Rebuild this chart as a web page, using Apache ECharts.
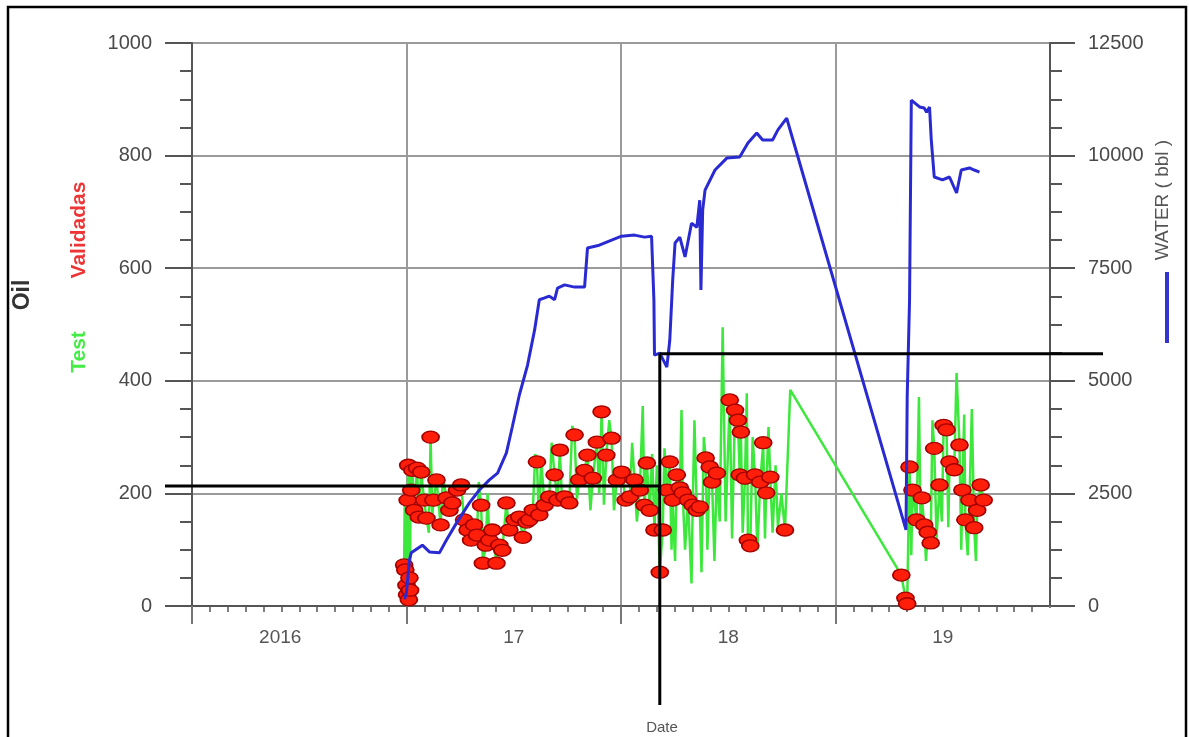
<!DOCTYPE html>
<html>
<head>
<meta charset="utf-8">
<script src="https://cdn.jsdelivr.net/npm/echarts@6/dist/echarts.min.js"></script>
<style>
  html, body { margin: 0; padding: 0; background: #fff; }
  #chart { width: 1189px; height: 737px; }
</style>
</head>
<body>
<div id="chart"></div>
<script>
// Year labels shown under the time axis (one per year band)
const yearLabels = ['2016', '17', '18', '19'];

// Water production (bbl), right axis
const waterData = [
  ['2016-12-29', 150], ['2017-01-01', 310], ['2017-01-06', 1020], ['2017-01-09', 1180],
  ['2017-01-28', 1350], ['2017-02-09', 1200], ['2017-02-26', 1180], ['2017-03-10', 1465],
  ['2017-03-27', 1840], ['2017-04-18', 2290], ['2017-05-05', 2575], ['2017-05-22', 2800],
  ['2017-06-05', 2950], ['2017-06-20', 3400], ['2017-06-30', 3975], ['2017-07-12', 4685],
  ['2017-07-26', 5350], ['2017-08-07', 6130], ['2017-08-15', 6800], ['2017-08-24', 6840],
  ['2017-09-01', 6880], ['2017-09-10', 6800], ['2017-09-15', 7060], ['2017-09-27', 7130],
  ['2017-10-14', 7080], ['2017-10-31', 7080], ['2017-11-05', 7950], ['2017-11-25', 8010],
  ['2017-12-16', 8125], ['2018-01-02', 8210], ['2018-01-24', 8235], ['2018-02-10', 8190],
  ['2018-02-22', 8210], ['2018-02-26', 6790], ['2018-02-27', 5570], ['2018-03-08', 5615],
  ['2018-03-20', 5305], ['2018-03-25', 5900], ['2018-03-30', 7240], ['2018-04-03', 8060],
  ['2018-04-11', 8190], ['2018-04-20', 7750], ['2018-05-01', 8500], ['2018-05-10', 8410],
  ['2018-05-15', 9010], ['2018-05-17', 7015], ['2018-05-20', 8790], ['2018-05-24', 9235],
  ['2018-06-10', 9680], ['2018-06-30', 9945], ['2018-07-22', 9970], ['2018-08-05', 10280],
  ['2018-08-20', 10500], ['2018-08-30', 10345], ['2018-09-16', 10345], ['2018-09-25', 10570],
  ['2018-10-10', 10830], ['2019-05-01', 1690], ['2019-05-03', 4640], ['2019-05-07', 6790],
  ['2019-05-10', 11230], ['2019-05-24', 11080], ['2019-06-01', 11055], ['2019-06-05', 10965],
  ['2019-06-10', 11080], ['2019-06-13', 10345], ['2019-06-18', 9525], ['2019-07-02', 9460],
  ['2019-07-14', 9525], ['2019-07-26', 9170], ['2019-08-03', 9680], ['2019-08-17', 9725],
  ['2019-08-25', 9680], ['2019-09-03', 9635]
];

// Oil well tests (all), left axis
const testData = [
  ['2016-12-28', 73], ['2016-12-29', 200], ['2016-12-30', 64], ['2017-01-01', 37],
  ['2017-01-02', 20], ['2017-01-03', 188], ['2017-01-04', 250], ['2017-01-05', 11],
  ['2017-01-06', 50], ['2017-01-07', 28], ['2017-01-08', 230], ['2017-01-09', 206],
  ['2017-01-11', 241], ['2017-01-14', 170], ['2017-01-19', 245], ['2017-01-22', 158],
  ['2017-01-26', 238], ['2017-01-31', 188], ['2017-02-04', 156], ['2017-02-08', 130],
  ['2017-02-11', 300], ['2017-02-14', 160], ['2017-02-16', 188], ['2017-02-21', 224],
  ['2017-02-28', 144], ['2017-03-04', 230], ['2017-03-10', 192], ['2017-03-15', 170],
  ['2017-03-20', 183], ['2017-03-28', 206], ['2017-04-04', 215], ['2017-04-09', 153],
  ['2017-04-15', 135], ['2017-04-21', 117], ['2017-04-26', 144], ['2017-05-01', 126],
  ['2017-05-04', 220], ['2017-05-08', 179], ['2017-05-11', 76], ['2017-05-16', 108],
  ['2017-05-19', 200], ['2017-05-22', 117], ['2017-05-27', 135], ['2017-06-03', 76],
  ['2017-06-08', 108], ['2017-06-13', 99], ['2017-06-20', 183], ['2017-06-25', 135],
  ['2017-07-04', 153], ['2017-07-12', 158], ['2017-07-18', 122], ['2017-07-24', 149],
  ['2017-07-29', 153], ['2017-08-04', 170], ['2017-08-08', 270], ['2017-08-11', 256],
  ['2017-08-13', 190], ['2017-08-15', 162], ['2017-08-18', 260], ['2017-08-24', 179],
  ['2017-09-01', 194], ['2017-09-05', 290], ['2017-09-10', 233], ['2017-09-15', 188],
  ['2017-09-19', 277], ['2017-09-23', 180], ['2017-09-27', 194], ['2017-10-05', 183],
  ['2017-10-10', 320], ['2017-10-14', 304], ['2017-10-18', 190], ['2017-10-22', 224],
  ['2017-10-31', 241], ['2017-11-05', 268], ['2017-11-10', 170], ['2017-11-14', 227],
  ['2017-11-21', 291], ['2017-11-25', 200], ['2017-11-29', 345], ['2017-12-03', 180],
  ['2017-12-07', 268], ['2017-12-12', 330], ['2017-12-16', 298], ['2017-12-20', 170],
  ['2017-12-25', 224], ['2018-01-02', 238], ['2018-01-09', 188], ['2018-01-16', 194],
  ['2018-01-20', 290], ['2018-01-24', 224], ['2018-01-28', 150], ['2018-02-02', 206],
  ['2018-02-07', 355], ['2018-02-10', 179], ['2018-02-14', 254], ['2018-02-19', 170],
  ['2018-02-23', 270], ['2018-02-27', 135], ['2018-03-03', 250], ['2018-03-08', 60],
  ['2018-03-13', 135], ['2018-03-16', 280], ['2018-03-20', 206], ['2018-03-25', 256],
  ['2018-03-28', 100], ['2018-03-30', 188], ['2018-04-03', 80], ['2018-04-06', 233],
  ['2018-04-11', 210], ['2018-04-14', 348], ['2018-04-16', 201], ['2018-04-20', 100],
  ['2018-04-25', 188], ['2018-05-01', 40], ['2018-05-03', 179], ['2018-05-06', 330],
  ['2018-05-10', 170], ['2018-05-15', 176], ['2018-05-18', 60], ['2018-05-22', 300],
  ['2018-05-25', 263], ['2018-05-28', 100], ['2018-06-01', 247], ['2018-06-05', 220],
  ['2018-06-09', 80], ['2018-06-13', 236], ['2018-06-18', 150], ['2018-06-23', 495],
  ['2018-06-28', 150], ['2018-07-05', 366], ['2018-07-09', 120], ['2018-07-14', 348],
  ['2018-07-19', 330], ['2018-07-22', 233], ['2018-07-24', 309], ['2018-07-27', 130],
  ['2018-07-31', 227], ['2018-08-03', 378], ['2018-08-05', 117], ['2018-08-09', 107],
  ['2018-08-13', 300], ['2018-08-17', 233], ['2018-08-21', 100], ['2018-08-26', 220],
  ['2018-08-31', 290], ['2018-09-03', 120], ['2018-09-05', 201], ['2018-09-09', 318],
  ['2018-09-12', 229], ['2018-09-16', 130], ['2018-09-21', 250], ['2018-09-25', 140],
  ['2018-10-01', 200], ['2018-10-07', 135], ['2018-10-16', 384], ['2019-04-23', 55],
  ['2019-04-30', 14], ['2019-05-03', 4], ['2019-05-05', 130], ['2019-05-07', 247],
  ['2019-05-10', 90], ['2019-05-12', 206], ['2019-05-19', 153], ['2019-05-23', 371],
  ['2019-05-26', 130], ['2019-05-28', 192], ['2019-06-01', 144], ['2019-06-04', 80],
  ['2019-06-07', 131], ['2019-06-12', 112], ['2019-06-15', 330], ['2019-06-18', 280],
  ['2019-06-22', 120], ['2019-06-27', 215], ['2019-07-01', 150], ['2019-07-04', 321],
  ['2019-07-09', 313], ['2019-07-12', 140], ['2019-07-14', 256], ['2019-07-22', 242],
  ['2019-07-26', 414], ['2019-07-31', 286], ['2019-08-03', 100], ['2019-08-05', 206],
  ['2019-08-08', 340], ['2019-08-10', 153], ['2019-08-14', 90], ['2019-08-17', 188],
  ['2019-08-21', 350], ['2019-08-25', 139], ['2019-08-28', 80], ['2019-08-30', 170],
  ['2019-09-05', 215], ['2019-09-10', 188]
];

// Validated oil tests, left axis
const validadasData = [
  ['2016-12-28', 73], ['2016-12-30', 64], ['2017-01-01', 37], ['2017-01-02', 20],
  ['2017-01-03', 188], ['2017-01-04', 250], ['2017-01-05', 11], ['2017-01-06', 50],
  ['2017-01-07', 28], ['2017-01-09', 206], ['2017-01-11', 241], ['2017-01-14', 170],
  ['2017-01-19', 245], ['2017-01-22', 158], ['2017-01-26', 238], ['2017-01-31', 188],
  ['2017-02-04', 156], ['2017-02-11', 300], ['2017-02-16', 188], ['2017-02-21', 224],
  ['2017-02-28', 144], ['2017-03-10', 192], ['2017-03-15', 170], ['2017-03-20', 183],
  ['2017-03-28', 206], ['2017-04-04', 215], ['2017-04-09', 153], ['2017-04-15', 135],
  ['2017-04-21', 117], ['2017-04-26', 144], ['2017-05-01', 126], ['2017-05-08', 179],
  ['2017-05-11', 76], ['2017-05-16', 108], ['2017-05-22', 117], ['2017-05-27', 135],
  ['2017-06-03', 76], ['2017-06-08', 108], ['2017-06-13', 99], ['2017-06-20', 183],
  ['2017-06-25', 135], ['2017-07-04', 153], ['2017-07-12', 158], ['2017-07-18', 122],
  ['2017-07-24', 149], ['2017-07-29', 153], ['2017-08-04', 170], ['2017-08-11', 256],
  ['2017-08-15', 162], ['2017-08-24', 179], ['2017-09-01', 194], ['2017-09-10', 233],
  ['2017-09-15', 188], ['2017-09-19', 277], ['2017-09-27', 194], ['2017-10-05', 183],
  ['2017-10-14', 304], ['2017-10-22', 224], ['2017-10-31', 241], ['2017-11-05', 268],
  ['2017-11-14', 227], ['2017-11-21', 291], ['2017-11-29', 345], ['2017-12-07', 268],
  ['2017-12-16', 298], ['2017-12-25', 224], ['2018-01-02', 238], ['2018-01-09', 188],
  ['2018-01-16', 194], ['2018-01-24', 224], ['2018-02-02', 206], ['2018-02-10', 179],
  ['2018-02-14', 254], ['2018-02-19', 170], ['2018-02-27', 135], ['2018-03-08', 60],
  ['2018-03-13', 135], ['2018-03-20', 206], ['2018-03-25', 256], ['2018-03-30', 188],
  ['2018-04-06', 233], ['2018-04-11', 210], ['2018-04-16', 201], ['2018-04-25', 188],
  ['2018-05-03', 179], ['2018-05-10', 170], ['2018-05-15', 176], ['2018-05-25', 263],
  ['2018-06-01', 247], ['2018-06-05', 220], ['2018-06-13', 236], ['2018-07-05', 366],
  ['2018-07-14', 348], ['2018-07-19', 330], ['2018-07-22', 233], ['2018-07-24', 309],
  ['2018-07-31', 227], ['2018-08-05', 117], ['2018-08-09', 107], ['2018-08-17', 233],
  ['2018-08-26', 220], ['2018-08-31', 290], ['2018-09-05', 201], ['2018-09-12', 229],
  ['2018-10-07', 135], ['2019-04-23', 55], ['2019-04-30', 14], ['2019-05-03', 4],
  ['2019-05-07', 247], ['2019-05-12', 206], ['2019-05-19', 153], ['2019-05-28', 192],
  ['2019-06-01', 144], ['2019-06-07', 131], ['2019-06-12', 112], ['2019-06-18', 280],
  ['2019-06-27', 215], ['2019-07-04', 321], ['2019-07-09', 313], ['2019-07-14', 256],
  ['2019-07-22', 242], ['2019-07-31', 286], ['2019-08-05', 206], ['2019-08-10', 153],
  ['2019-08-17', 188], ['2019-08-25', 139], ['2019-08-30', 170], ['2019-09-05', 215],
  ['2019-09-10', 188]
];

// Reference guide lines: a date and two levels (oil and water)
const guideDate = '2018-03-08';
const guideOil = 213;
const guideWater = 5600;

// Date string -> fractional year, so yearly ticks land exactly on Jan 1
function toYear(s) {
  const t = Date.parse(s + 'T00:00:00Z');
  const y = new Date(t).getUTCFullYear();
  const a = Date.UTC(y, 0, 1), b = Date.UTC(y + 1, 0, 1);
  return y + (t - a) / (b - a);
}
const asXY = arr => arr.map(d => [toYear(d[0]), d[1]]);

const FONT = '"Liberation Sans", Arial, sans-serif';
const AXIS = '#555';
const GRID = '#9a9a9a';
const plain = v => String(v);

const chart = echarts.init(document.getElementById('chart'), null, { renderer: 'canvas' });

chart.setOption({
  animation: false,
  backgroundColor: '#fff',
  textStyle: { fontFamily: FONT },
  grid: { left: 192, right: 139, top: 43, bottom: 131 },
  xAxis: [
    {
      type: 'value', min: 2016, max: 2020, interval: 1,
      axisLine: { show: true, onZero: false, lineStyle: { color: AXIS, width: 2 } },
      axisTick: { show: true, length: 18, lineStyle: { color: '#777', width: 2 } },
      minorTick: { show: true, splitNumber: 12, length: 6, lineStyle: { color: AXIS, width: 1.5 } },
      splitLine: { show: true, lineStyle: { color: GRID, width: 2 } },
      axisLabel: { show: false }
    },
    {
      type: 'category', data: yearLabels, position: 'bottom', boundaryGap: true,
      axisLine: { show: false }, axisTick: { show: false }, splitLine: { show: false },
      axisLabel: {
        margin: 22, fontSize: 19, color: AXIS, fontFamily: FONT,
        formatter: (v, i) => (i === 0 ? '{first|' + v + '}' : v),
        rich: { first: { padding: [0, 38, 0, 0], fontSize: 19, color: AXIS, fontFamily: FONT } }
      }
    }
  ],
  yAxis: [
    {
      type: 'value', min: 0, max: 1000, interval: 200, position: 'left',
      axisLine: { show: true, lineStyle: { color: AXIS, width: 2 } },
      axisTick: { show: true, length: 27, lineStyle: { color: AXIS, width: 2 } },
      minorTick: { show: true, splitNumber: 4, length: 12, lineStyle: { color: AXIS, width: 2 } },
      splitLine: { show: true, lineStyle: { color: GRID, width: 2 } },
      axisLabel: { margin: 40, fontSize: 20, color: '#4a4a4a', fontFamily: FONT, formatter: plain }
    },
    {
      type: 'value', min: 0, max: 12500, interval: 2500, position: 'right',
      axisLine: { show: true, lineStyle: { color: AXIS, width: 2 } },
      axisTick: { show: true, length: 25, lineStyle: { color: AXIS, width: 2 } },
      minorTick: { show: true, splitNumber: 4, length: 12, lineStyle: { color: AXIS, width: 2 } },
      splitLine: { show: false },
      axisLabel: { margin: 38, fontSize: 20, color: '#4a4a4a', fontFamily: FONT, formatter: plain }
    }
  ],
  series: [
    {
      name: 'Test', type: 'line', xAxisIndex: 0, yAxisIndex: 0,
      data: asXY(testData), symbol: 'none', z: 2,
      lineStyle: { color: '#3de83d', width: 2.5 }
    },
    {
      name: 'Validadas', type: 'scatter', xAxisIndex: 0, yAxisIndex: 0,
      data: asXY(validadasData), symbol: 'circle', symbolSize: [17, 12], z: 3,
      itemStyle: { color: '#ff1e0a', borderColor: '#a30000', borderWidth: 1.5, opacity: 1 }
    },
    {
      name: 'WATER', type: 'line', xAxisIndex: 0, yAxisIndex: 1,
      data: asXY(waterData), symbol: 'none', z: 4,
      lineStyle: { color: '#2a2ad2', width: 3 }
    }
  ]
});

// Guide lines anchored to the chart's own scales
const gx = toYear(guideDate);
const pLow = chart.convertToPixel({ xAxisIndex: 0, yAxisIndex: 0 }, [gx, guideOil]);
const pHigh = chart.convertToPixel({ xAxisIndex: 0, yAxisIndex: 1 }, [gx, guideWater]);
const gridLeft = chart.convertToPixel({ xAxisIndex: 0 }, 2016);
const gridRight = chart.convertToPixel({ xAxisIndex: 0 }, 2020);
const gridBottom = chart.convertToPixel({ yAxisIndex: 0 }, 0);
const guideStyle = { stroke: '#000', lineWidth: 3 };

chart.setOption({
  graphic: [
    // outer frame
    { type: 'rect', shape: { x: 8, y: 7, width: 1178, height: 760 },
      style: { fill: null, stroke: '#000', lineWidth: 2.5 }, z: 100 },
    // white cover over the tick below the right end of the date axis
    { type: 'rect', z: 50, shape: { x: gridRight - 3, y: gridBottom + 2, width: 6, height: 20 },
      style: { fill: '#fff' } },
    // axis titles
    { type: 'text', x: 23, y: 295, rotation: Math.PI / 2,
      style: { text: 'Oil', font: 'bold 23px ' + FONT, fill: '#333', align: 'center', verticalAlign: 'middle' } },
    { type: 'text', x: 79, y: 230, rotation: Math.PI / 2,
      style: { text: 'Validadas', font: 'bold 21px ' + FONT, fill: '#ee3535', align: 'center', verticalAlign: 'middle' } },
    { type: 'text', x: 79, y: 352, rotation: Math.PI / 2,
      style: { text: 'Test', font: 'bold 21px ' + FONT, fill: '#45ec45', align: 'center', verticalAlign: 'middle' } },
    { type: 'text', x: 1163, y: 200, rotation: Math.PI / 2,
      style: { text: 'WATER ( bbl )', font: '19px ' + FONT, fill: '#555', align: 'center', verticalAlign: 'middle' } },
    { type: 'rect', shape: { x: 1165, y: 272, width: 4, height: 71 }, style: { fill: '#3434d0' } },
    { type: 'text', x: 662, y: 728,
      style: { text: 'Date', font: '15px ' + FONT, fill: '#555', align: 'center', verticalAlign: 'middle' } },
    // guide lines
    { type: 'line', z: 90, shape: { x1: gridLeft - 27, y1: pLow[1], x2: pLow[0], y2: pLow[1] }, style: guideStyle },
    { type: 'line', z: 90, shape: { x1: pHigh[0], y1: pHigh[1], x2: pHigh[0], y2: gridBottom + 99 }, style: guideStyle },
    { type: 'line', z: 90, shape: { x1: pHigh[0], y1: pHigh[1], x2: gridRight + 53, y2: pHigh[1] }, style: guideStyle }
  ]
});
</script>
</body>
</html>
